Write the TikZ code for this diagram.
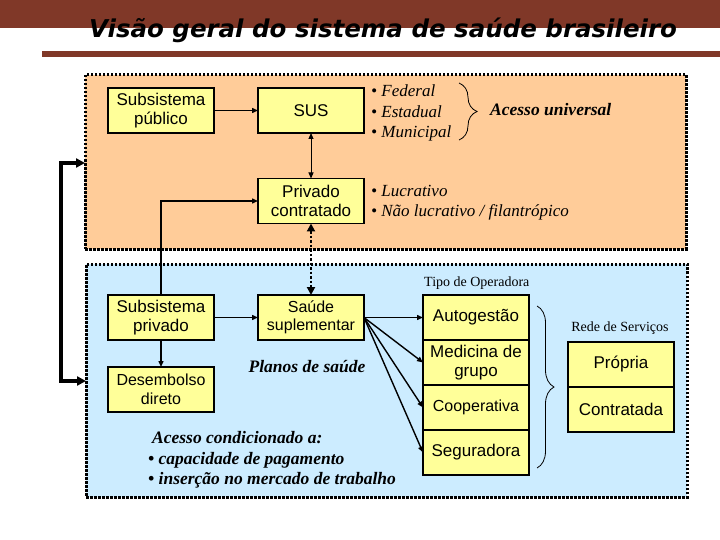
\documentclass[tikz,border=0pt]{standalone}
\usepackage{fontspec}
\setmainfont{Liberation Serif}
\setsansfont{Liberation Sans}
\newfontfamily\titlefont{DejaVu Sans}
\usepackage{xcolor}
\usepackage{tikz}
\usetikzlibrary{arrows.meta,positioning,decorations.pathreplacing}

\definecolor{barbrown}{RGB}{128,56,40}
\definecolor{pubfill}{RGB}{255,204,153}
\definecolor{privfill}{RGB}{204,236,255}
\definecolor{boxfill}{RGB}{255,255,153}

\begin{document}
\begin{tikzpicture}[
  x=1pt,y=-1pt,
  >={Triangle[length=6pt,width=5pt]},
  bx/.style={draw,fill=boxfill,line width=1.6pt,outer sep=0pt,inner sep=1pt,
             minimum width=106pt,minimum height=45pt,align=center,
             font=\sffamily\fontsize{17}{19}\selectfont},
  bxs/.style={bx,font=\sffamily\fontsize{16}{18.5}\selectfont},
  reg/.style={draw,line width=3pt,dash pattern=on 2.5pt off 1.5pt,outer sep=0pt,
              minimum width=601pt},
  itx/.style={anchor=west,inner sep=0pt,font=\itshape\fontsize{17}{19}\selectfont},
  bitx/.style={inner sep=0pt,font=\bfseries\itshape\fontsize{17.5}{20}\selectfont},
  lbl/.style={inner sep=0pt,font=\fontsize{14}{16}\selectfont},
  arr/.style={->,line width=1.4pt},
  brc/.style={decorate,line width=0.8pt,decoration={brace,amplitude=#1}}
]
\useasboundingbox (0,0) rectangle (720,540);

%% title bars
\fill[barbrown] (0,0) rectangle (720,28);
\fill[barbrown] (42,51) rectangle (720,57);
\node[anchor=base,inner sep=0pt,font=\titlefont\bfseries\itshape\fontsize{24.5}{28}\selectfont]
  (title) at (383,38) {Visão geral do sistema de saúde brasileiro};

%% regions
\node[reg,fill=pubfill,minimum height=174pt]  (orng) at (385.5,162) {};
\node[reg,fill=privfill,minimum height=233pt] (blu)  at (386.5,380.5) {};

%% public subsystem
\node[bx] (pub)   at (161,110.5) {Subsistema\\público};
\node[bx] (sus)   at (311,110.5) {SUS};
\node[bx] (privc) at (311,201)   {Privado\\contratado};

\node[itx] (fed) at (371,91)  {• Federal};
\node[itx] (est) at (371,112) {• Estadual};
\node[itx] (mun) at (371,133) {• Municipal};
\node[bitx,anchor=west] (univ) at (490,110) {Acesso universal};
\node[itx] (lucr)  at (371,191) {• Lucrativo};
\node[itx] (nlucr) at (371,212) {• Não lucrativo / filantrópico};

%% private subsystem
\node[bx] (priv)   at (161,317.5) {Subsistema\\privado};
\node[bxs] (desemb) at (161,389.5) {Desembolso\\direto};
\node[bxs] (supl) at (311,317.5) {Saúde\\suplementar};
\node[bitx] (planos) at (307,367) {Planos de saúde};

\node[lbl,anchor=west] (tipo) at (424,283) {Tipo de Operadora};
\node[bx] (auto) at (476,317.5) {Autogestão};
\node[bx,below=0pt of auto] (medic) {Medicina de\\grupo};
\node[bxs,below=0pt of medic] (coop) {Cooperativa};
\node[bx,below=0pt of coop] (seg) {Seguradora};

\node[lbl] (rede) at (620,328) {Rede de Serviços};
\node[bx] (propria) at (621,364.5) {Própria};
\node[bx,below=0pt of propria] (contr) {Contratada};

\node[bitx,anchor=west] (acond) at (152,438) {Acesso condicionado a:};
\node[bitx,anchor=west] (cap1)  at (148,460) {• capacidade de pagamento};
\node[bitx,anchor=west] (cap2)  at (148,480) {• inserção no mercado de trabalho};

%% braces
\draw[brc=18pt] (459,83) -- (459,140);
\draw[brc=17pt] (537,306) -- (537,468);

%% arrows
\draw[arr] (pub.east) -- (sus.west);
\draw[<->,line width=1pt] (sus.south) -- (privc.north);
\draw[arr] (priv.north) |- (privc.west);
\draw[<->,line width=2.5pt,dash pattern=on 2.5pt off 2pt,
      >={Triangle[length=8pt,width=8pt]}] (privc.south) -- (supl.north);
\draw[arr] (priv.east) -- (supl.west);
\draw[arr] (priv.south) -- (desemb.north);
\draw[arr] (supl.east) -- (auto.west);
\draw[arr] (supl.east) -- (medic.west);
\draw[arr] (supl.east) -- (coop.west);
\draw[arr] (supl.east) -- (seg.west);

\coordinate (loopT) at (61,163);
\coordinate (loopB) at (61,381);
\draw[<->,line width=3.5pt,>={Triangle[length=9pt,width=9pt]}]
  (orng.west |- loopT) -- (loopT) -- (loopB) -- (blu.west |- loopB);

\end{tikzpicture}
\end{document}
